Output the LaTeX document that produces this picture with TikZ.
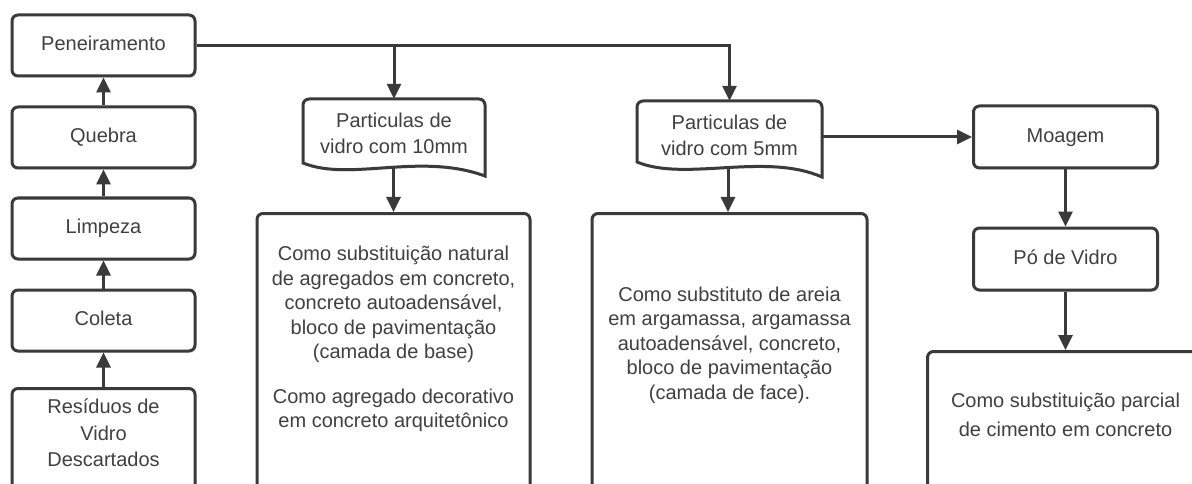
\documentclass[tikz,border=0pt]{standalone}
\usepackage{fontspec}
\setmainfont{Liberation Sans}
\usetikzlibrary{arrows.meta,shadows}
\definecolor{ln}{HTML}{3A3A3A}
\definecolor{tx}{HTML}{404040}
\begin{document}
\begin{tikzpicture}[x=1pt,y=-1pt,
  font=\fontsize{20}{26}\selectfont,
  shad/.style={drop shadow={shadow xshift=1.5pt,shadow yshift=-2pt,opacity=0.12}},
  box/.style={draw=ln,line width=3pt,rounded corners=6pt,fill=white,text=tx,
    minimum width=183pt,minimum height=61pt,inner sep=0pt,align=center,
    text height=14.5pt,text depth=4pt,shad},
  bigbox/.style={draw=ln,line width=3pt,rounded corners=6pt,fill=white,inner sep=0pt,shad},
  docshape/.style={draw=ln,line width=3pt,fill=white,shad},
  txt/.style={text=tx,align=center,inner sep=0pt},
  arr/.style={draw=ln,line width=3pt,-{Triangle[length=15pt,width=14pt]}}]
\clip (0,0) rectangle (1192,484);
\fill[white] (0,0) rectangle (1192,484);
% left column
\node[box] (pen) at (103.5,45.5) {Peneiramento};
\node[box] (que) at (103.5,137.5) {Quebra};
\node[box] (lim) at (103.5,228.5) {Limpeza};
\node[box] (col) at (103.5,320.5) {Coleta};
\node[bigbox,minimum width=183pt,minimum height=140pt,anchor=north] (res) at (103.5,387) {};
\node[txt,font=\fontsize{20}{26.5}\selectfont] (rest) at (103.5,433) {Resíduos de\\Vidro\\Descartados};
% document shapes
\draw[docshape] (303,163) [rounded corners=6pt] -- (303,99) -- (485,99) [sharp corners] -- (485,176)
  .. controls (420,152) and (350,182) .. (303,163) -- cycle;
\node[txt,minimum width=182pt,minimum height=68pt] (p10) at (394,133) {Particulas de\\vidro com 10mm};
\coordinate (p10b) at (393.5,167.5);
\draw[docshape] (637,162) [rounded corners=6pt] -- (637,101) -- (822,101) [sharp corners] -- (822,177)
  .. controls (765,152) and (685,182) .. (637,162) -- cycle;
\node[txt,minimum width=185pt,minimum height=68pt] (p5) at (729.5,135) {Particulas de\\vidro com 5mm};
\coordinate (p5b) at (728,167.6);
% big boxes
\node[bigbox,minimum width=273pt,minimum height=320pt,anchor=north] (b1) at (393.5,212) {};
\node[txt,font=\fontsize{20}{24.5}\selectfont] (b1t) at (393.5,339) {Como substituição natural\\de agregados em concreto,\\concreto autoadensável,\\bloco de pavimentação\\(camada de base)\\[20pt]Como agregado decorativo\\em concreto arquitetônico};
\node[bigbox,minimum width=275pt,minimum height=320pt,anchor=north] (b2) at (729.5,212) {};
\node[txt,font=\fontsize{20}{24.5}\selectfont] (b2t) at (729.5,345) {Como substituto de areia\\em argamassa, argamassa\\autoadensável, concreto,\\bloco de pavimentação\\(camada de face).};
% right column
\node[box,minimum width=184pt,minimum height=62pt] (moa) at (1065.5,137) {Moagem};
\node[box,minimum width=184pt,minimum height=62pt] (po) at (1065.5,259) {Pó de Vidro};
\node[bigbox,minimum width=276pt,minimum height=200pt,anchor=north] (b3) at (1065.5,350) {};
\node[txt,font=\fontsize{20}{29}\selectfont] (b3t) at (1065.5,415) {Como substituição parcial\\de cimento em concreto};
% connectors
\draw[arr] (que) -- (pen);
\draw[arr] (lim) -- (que);
\draw[arr] (col) -- (lim);
\draw[arr] (res.north) -- (col);
\draw[arr] (pen.east) -| (p10.north);
\draw[arr] (pen.east) -| (p5.north);
\draw[arr] (p10b) -- (p10b |- b1.north);
\draw[arr] (p5b) -- (p5b |- b2.north);
\draw[arr] (moa.west -| p5.east) -- (moa.west);
\draw[arr] (moa) -- (po);
\draw[arr] (po) -- (b3.north);
\end{tikzpicture}
\end{document}
